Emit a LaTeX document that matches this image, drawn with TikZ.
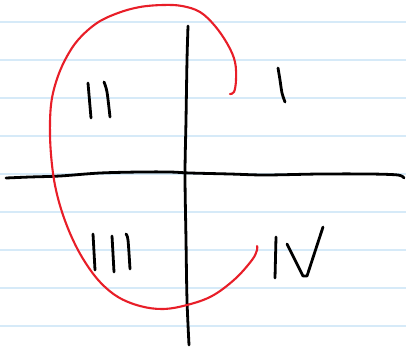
\documentclass[tikz,border=0pt]{standalone}
\begin{document}
\begin{tikzpicture}[x=1pt,y=-1pt,
  ruled/.style={draw=paperblue,line width=1.4pt},
  ink/.style={draw=black,line width=2.8pt,line cap=round,line join=round},
  redink/.style={draw=penred,line width=2.1pt,line cap=round,line join=round}]
\definecolor{paperblue}{RGB}{214,234,248}
\definecolor{penred}{RGB}{232,30,40}
\useasboundingbox[fill=white] (0,0) rectangle (406,350);
% ruled lines
\foreach \yy in {22,60,98,136,174,212,250,288,326}
  \draw[ruled] (0,\yy) -- (406,\yy);
% axes
\draw[ink] plot[smooth] coordinates {(6,178) (30,177) (60,176) (100,173) (140,172) (170,172) (190,173) (230,174) (265,175) (320,174) (370,174) (398,175) (404,178)};
\draw[ink] plot[smooth] coordinates {(188,26) (187,60) (186,120) (185,175) (186,240) (187,300) (189,345)};
% red curve
\draw[redink] plot[smooth,tension=0.6] coordinates {(230,94) (234,92) (236,80) (235,62) (228,45) (215,26) (200,12) (182,6) (163,5) (140,7) (118,13) (97,23) (78,40) (65,60) (56,82) (51,105) (50,135) (52,165) (56,190) (63,215) (73,240) (85,262) (100,282) (118,297) (140,306) (163,309) (187,305) (212,296) (235,279) (252,260) (257,250) (257,246)};
% numeral I
\draw[ink] plot[smooth] coordinates {(278,68) (280,80) (282,93) (285,102)};
% numeral II
\draw[ink] (88,83) -- (91,118);
\draw[ink] plot[smooth] coordinates {(104,82) (107,92) (110,117)};
% numeral III
\draw[ink] (93,234) -- (95,270);
\draw[ink] (112,236) -- (114,272);
\draw[ink] plot[smooth] coordinates {(126,234) (128,240) (130,269)};
% numeral IV
\draw[ink] (276,237) -- (275,278);
\draw[ink] (287,244) -- (303,276) -- (307,276) -- (323,227);
\end{tikzpicture}
\end{document}
